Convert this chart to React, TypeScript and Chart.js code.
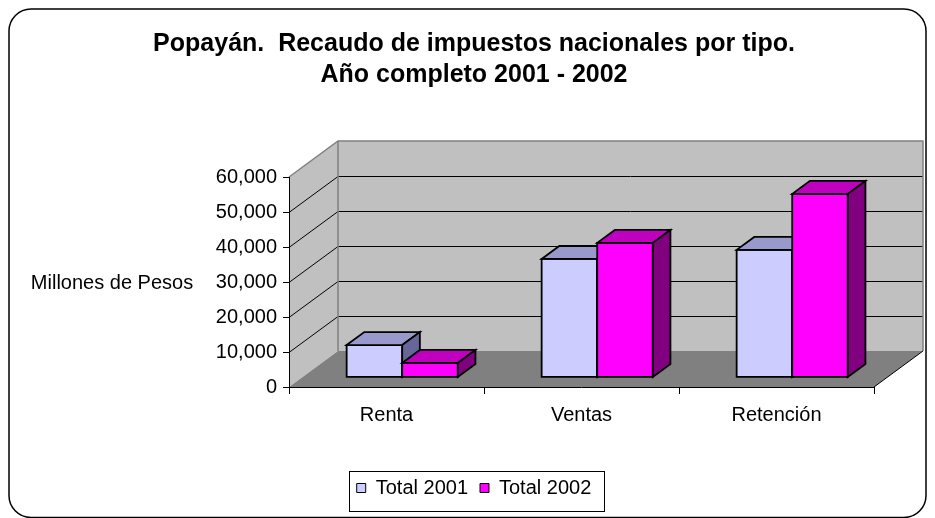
import React, { useEffect, useRef } from 'react';
import { Chart, registerables } from 'chart.js';

Chart.register(...registerables);

const categories = ['Renta', 'Ventas', 'Retención'];
const seriesNames = ['Total 2001', 'Total 2002'];
const total2001 = [9100, 33700, 36300];
const total2002 = [4000, 38300, 52300];
const yTickValues = [0, 10000, 20000, 30000, 40000, 50000, 60000];
const titleLines = ['Popayán.  Recaudo de impuestos nacionales por tipo.', 'Año completo 2001 - 2002'];
const yAxisTitle = 'Millones de Pesos';

const FONT = "'Liberation Sans', Arial, sans-serif";
const DX = 49;
const DY = -36;
const F1 = 0.28;
const F2 = 0.64;
const FACE = [
  { front: '#CCCCFF', top: '#9999CC', side: '#666699' },
  { front: '#FF00FF', top: '#BF00BF', side: '#800080' },
];

const threeD = {
  id: 'threeD',
  beforeDatasetsDraw(chart: any) {
    const ctx = chart.ctx;
    const { left, right, top, bottom } = chart.chartArea;
    const ys = chart.scales.y;
    const bl = left + DX, br = right + DX;
    const bt = top + DY, bb = bottom + DY;
    ctx.save();
    // back wall
    ctx.fillStyle = '#C0C0C0';
    ctx.fillRect(bl, bt, br - bl, bb - bt);
    // side wall
    ctx.beginPath();
    ctx.moveTo(left, top); ctx.lineTo(bl, bt); ctx.lineTo(bl, bb); ctx.lineTo(left, bottom);
    ctx.closePath(); ctx.fill();
    // floor
    ctx.fillStyle = '#808080';
    ctx.beginPath();
    ctx.moveTo(left, bottom); ctx.lineTo(right, bottom); ctx.lineTo(br, bb); ctx.lineTo(bl, bb);
    ctx.closePath(); ctx.fill();
    // gridlines
    ctx.lineWidth = 1;
    ctx.strokeStyle = '#000';
    yTickValues.forEach((v) => {
      if (v <= 0 || v >= yTickValues[yTickValues.length - 1]) return;
      const y = Math.round(ys.getPixelForValue(v)) + 0.5;
      ctx.beginPath();
      ctx.moveTo(left, y); ctx.lineTo(bl, y + DY); ctx.lineTo(br, y + DY);
      ctx.stroke();
    });
    // wall outlines
    ctx.strokeStyle = '#808080';
    ctx.lineWidth = 1.5;
    ctx.beginPath();
    ctx.moveTo(left, top); ctx.lineTo(bl, bt); ctx.lineTo(br, bt); ctx.lineTo(br, bb);
    ctx.moveTo(bl, bt); ctx.lineTo(bl, bb);
    ctx.stroke();
    ctx.strokeStyle = '#000';
    ctx.lineWidth = 1;
    ctx.beginPath();
    ctx.moveTo(right, bottom); ctx.lineTo(br, bb);
    ctx.stroke();
    // axes
    ctx.lineWidth = 1;
    ctx.strokeStyle = '#000';
    ctx.beginPath();
    ctx.moveTo(left + 0.5, top); ctx.lineTo(left + 0.5, bottom + 0.5); ctx.lineTo(right, bottom + 0.5);
    yTickValues.forEach((v) => {
      const y = Math.round(ys.getPixelForValue(v)) + 0.5;
      ctx.moveTo(left - 6, y); ctx.lineTo(left + 0.5, y);
    });
    for (let i = 0; i <= categories.length; i++) {
      const x = Math.round(left + (i * (right - left)) / categories.length) + 0.5;
      ctx.moveTo(x, bottom); ctx.lineTo(x, bottom + 7);
    }
    ctx.stroke();
    // bars
    const ox = DX * F1 + 2, oy = DY * F1;
    const ddx = DX * (F2 - F1), ddy = DY * (F2 - F1);
    const yBase = ys.getPixelForValue(0) + oy;
    ctx.lineWidth = 1.8;
    ctx.lineJoin = 'miter';
    ctx.strokeStyle = '#000';
    for (let j = 0; j < categories.length; j++) {
      chart.data.datasets.forEach((ds: any, i: number) => {
        const el = chart.getDatasetMeta(i).data[j];
        const x0 = el.x - el.width / 2 + ox;
        const x1 = el.x + el.width / 2 + ox;
        const yt = ys.getPixelForValue(ds.data[j]) + oy;
        const c = FACE[i];
        ctx.fillStyle = c.front;
        ctx.beginPath();
        ctx.rect(x0, yt, x1 - x0, yBase - yt);
        ctx.fill(); ctx.stroke();
        ctx.fillStyle = c.top;
        ctx.beginPath();
        ctx.moveTo(x0, yt); ctx.lineTo(x0 + ddx, yt + ddy); ctx.lineTo(x1 + ddx, yt + ddy); ctx.lineTo(x1, yt);
        ctx.closePath(); ctx.fill(); ctx.stroke();
        ctx.fillStyle = c.side;
        ctx.beginPath();
        ctx.moveTo(x1, yt); ctx.lineTo(x1 + ddx, yt + ddy); ctx.lineTo(x1 + ddx, yBase + ddy); ctx.lineTo(x1, yBase);
        ctx.closePath(); ctx.fill(); ctx.stroke();
      });
    }
    ctx.restore();
    return false;
  },
  afterDraw(chart: any) {
    const ctx = chart.ctx;
    ctx.save();
    ctx.fillStyle = '#000';
    ctx.font = `20px ${FONT}`;
    ctx.textAlign = 'center';
    ctx.textBaseline = 'middle';
    ctx.fillText(yAxisTitle, 104, 275);
    const hb = chart.legend.legendHitBoxes;
    if (hb && hb.length) {
      const last = hb[hb.length - 1];
      const cy = hb[0].top + hb[0].height / 2;
      const l = hb[0].left - 8;
      const r = last.left + last.width + 12;
      ctx.strokeStyle = '#000';
      ctx.lineWidth = 1;
      ctx.strokeRect(Math.round(l) + 0.5, Math.round(cy - 17) + 0.5, Math.round(r - l), 40);
    }
    ctx.strokeStyle = '#000';
    ctx.lineWidth = 1.5;
    ctx.beginPath();
    ctx.roundRect(1, 1, chart.width - 2, chart.height - 1.5, 22);
    ctx.stroke();
    ctx.restore();
  },
};

export default function App() {
  const ref = useRef<HTMLCanvasElement>(null);
  useEffect(() => {
    if (!ref.current) return;
    const chart = new Chart(ref.current, {
      type: 'bar',
      data: {
        labels: categories,
        datasets: [
          { label: seriesNames[0], data: total2001, backgroundColor: FACE[0].front, borderColor: '#000', borderWidth: 1 },
          { label: seriesNames[1], data: total2002, backgroundColor: FACE[1].front, borderColor: '#000', borderWidth: 1 },
        ],
      },
      options: {
        responsive: false,
        animation: false,
        events: [],
        devicePixelRatio: 1,
        layout: { padding: { left: 13, right: 0, top: 0, bottom: 10 } },
        datasets: { bar: { categoryPercentage: 0.57, barPercentage: 1 } },
        scales: {
          x: {
            afterFit: (s: any) => { s.height = 79; },
            grid: { display: false, drawTicks: false },
            border: { display: false },
            ticks: { padding: 16, color: '#000', maxRotation: 0, font: { family: FONT, size: 20 } },
          },
          y: {
            min: 0,
            max: 60000,
            afterFit: (s: any) => { s.width = 268; },
            afterBuildTicks: (s: any) => { s.ticks = yTickValues.map((v) => ({ value: v })); },
            grid: { display: false, drawTicks: false },
            border: { display: false },
            ticks: {
              padding: 12,
              color: '#000',
              font: { family: FONT, size: 20 },
              callback: (v: any) => Number(v).toLocaleString('en-US'),
            },
          },
          y2: {
            position: 'right',
            afterFit: (s: any) => { s.width = 53; },
            grid: { display: false, drawTicks: false },
            border: { display: false },
            ticks: { display: false },
          },
        },
        plugins: {
          title: {
            display: true,
            text: titleLines,
            color: '#000',
            font: { family: FONT, size: 25, weight: 'bold', lineHeight: 1.24 },
            padding: { top: 21, bottom: 86 },
          },
          legend: {
            position: 'bottom',
            labels: { boxWidth: 9, boxHeight: 9, padding: 12, color: '#000', font: { family: FONT, size: 20 } },
          },
          tooltip: { enabled: false },
        },
      },
      plugins: [threeD],
    } as any);
    return () => chart.destroy();
  }, []);
  return <canvas ref={ref} width={919} height={510} style={{ display: 'block', width: 919, height: 510 }} />;
}
